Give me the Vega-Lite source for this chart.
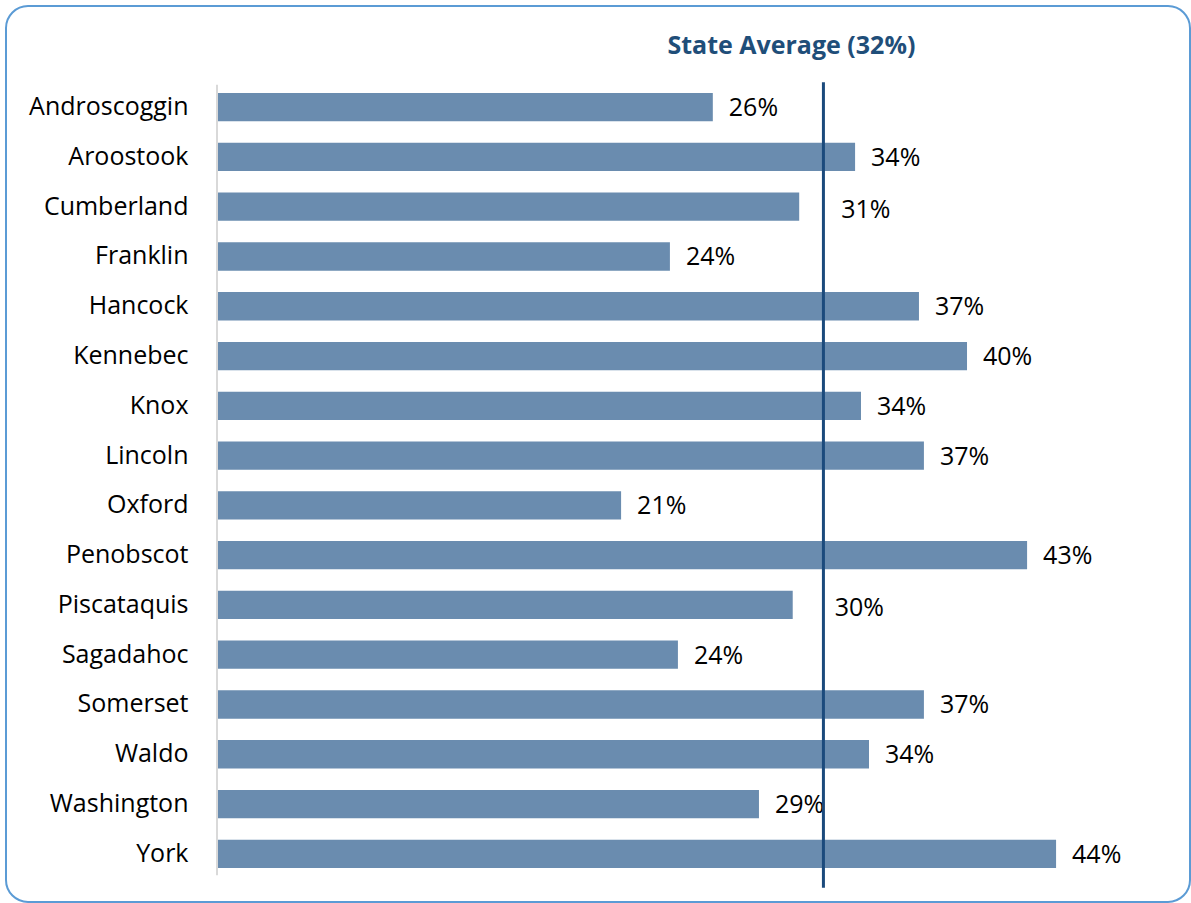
{
  "$schema": "https://vega.github.io/schema/vega-lite/v6.json",
  "width": 1184,
  "height": 896,
  "autosize": {"type": "none"},
  "padding": {"left": 6, "top": 6, "right": 1, "bottom": 1},
  "background": "white",
  "config": {
    "view": {"stroke": "#5b9bd5", "strokeWidth": 2, "cornerRadius": 22},
    "font": "Open Sans"
  },
  "datasets": {
    "counties": [
      {"county": "Androscoggin", "value": 26.0, "label": "26%"},
      {"county": "Aroostook", "value": 33.46, "label": "34%"},
      {"county": "Cumberland", "value": 30.53, "label": "31%"},
      {"county": "Franklin", "value": 23.75, "label": "24%"},
      {"county": "Hancock", "value": 36.81, "label": "37%"},
      {"county": "Kennebec", "value": 39.33, "label": "40%"},
      {"county": "Knox", "value": 33.77, "label": "34%"},
      {"county": "Lincoln", "value": 37.07, "label": "37%"},
      {"county": "Oxford", "value": 21.19, "label": "21%"},
      {"county": "Penobscot", "value": 42.48, "label": "43%"},
      {"county": "Piscataquis", "value": 30.19, "label": "30%"},
      {"county": "Sagadahoc", "value": 24.17, "label": "24%"},
      {"county": "Somerset", "value": 37.07, "label": "37%"},
      {"county": "Waldo", "value": 34.19, "label": "34%"},
      {"county": "Washington", "value": 28.42, "label": "29%"},
      {"county": "York", "value": 44.0, "label": "44%"}
    ],
    "avg": [{"avg": 31.8, "label": "State Average (32%)"}]
  },
  "data": {"name": "counties"},
  "layer": [
    {
      "mark": {"type": "bar", "color": "#6a8caf", "height": {"band": 0.569}},
      "encoding": {
        "y": {
          "field": "county",
          "type": "nominal",
          "scale": {"paddingInner": 0, "paddingOuter": 1, "align": 0.766},
          "axis": {
            "title": null,
            "orient": "left",
            "offset": -211,
            "domain": false,
            "ticks": false,
            "grid": false,
            "labelPadding": 29,
            "labelFontSize": 25,
            "labelFont": "Open Sans",
            "labelColor": "#000000",
            "labelAlign": "right",
            "labelBaseline": "middle"
          }
        },
        "x": {
          "field": "value",
          "type": "quantitative",
          "scale": {"domain": [-11.065, 51.023], "nice": false, "zero": false},
          "axis": null
        },
        "x2": {"datum": 0}
      }
    },
    {
      "data": {"values": [{}]},
      "mark": {"type": "rule", "color": "#d9d9d9", "strokeWidth": 2},
      "encoding": {
        "x": {"datum": 0, "type": "quantitative"},
        "y": {"datum": "Androscoggin", "type": "nominal", "bandPosition": 0.05},
        "y2": {"datum": "York", "bandPosition": 0.93}
      }
    },
    {
      "transform": [{"filter": "datum.value < 29 || datum.value > 31.8"}],
      "mark": {"type": "text", "align": "left", "baseline": "middle", "dx": 16, "dy": 1, "fontSize": 25, "font": "Open Sans", "color": "#000000"},
      "encoding": {
        "y": {"field": "county", "type": "nominal"},
        "x": {"field": "value", "type": "quantitative"},
        "text": {"field": "label"}
      }
    },
    {
      "transform": [{"filter": "datum.value >= 29 && datum.value <= 31.8"}],
      "mark": {"type": "text", "align": "left", "baseline": "middle", "dx": 42, "dy": 3, "fontSize": 25, "font": "Open Sans", "color": "#000000"},
      "encoding": {
        "y": {"field": "county", "type": "nominal"},
        "x": {"field": "value", "type": "quantitative"},
        "text": {"field": "label"}
      }
    },
    {
      "data": {"name": "avg"},
      "mark": {"type": "rule", "color": "#1b4a7c", "strokeWidth": 3},
      "encoding": {
        "x": {"field": "avg", "type": "quantitative"},
        "y": {"datum": "Androscoggin", "type": "nominal", "bandPosition": 0},
        "y2": {"datum": "York", "bandPosition": 1.18}
      }
    },
    {
      "data": {"name": "avg"},
      "mark": {"type": "text", "align": "center", "baseline": "alphabetic", "dx": -32, "dy": -28, "fontSize": 25, "fontWeight": "bold", "font": "Open Sans", "color": "#1f4e79"},
      "encoding": {
        "x": {"field": "avg", "type": "quantitative"},
        "y": {"datum": "Androscoggin", "type": "nominal", "bandPosition": 0},
        "text": {"field": "label"}
      }
    }
  ]
}
